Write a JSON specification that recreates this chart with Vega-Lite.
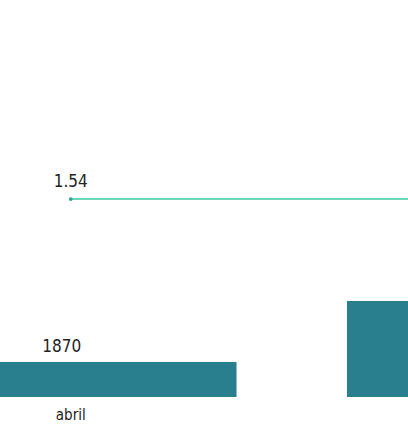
{
  "$schema": "https://vega.github.io/schema/vega-lite/v6.json",
  "width": 408,
  "height": 397,
  "autosize": {"type": "none"},
  "padding": {"left": 0, "top": 0, "right": 0, "bottom": 50},
  "background": "#ffffff",
  "config": {"view": {"stroke": null}, "font": "DejaVu Sans Condensed"},
  "data": {"values": [
    {"mes": "abril", "valor": 1870, "ratio": 1.54},
    {"mes": "mayo", "valor": 5130, "ratio": 1.54}
  ]},
  "encoding": {
    "x": {"field": "mes", "type": "nominal", "sort": null,
      "scale": {"range": [-95, 678.5], "paddingInner": 0.25, "paddingOuter": 0},
      "axis": {"title": null, "domain": false, "ticks": false, "labelFont": "DejaVu Sans Condensed", "labelFontSize": 15, "labelColor": "#222222", "labelPadding": 10, "labelAngle": 0}}
  },
  "layer": [
    {
      "layer": [
        {"mark": {"type": "bar", "color": "#2a7f8f"}},
        {"mark": {"type": "text", "baseline": "bottom", "dy": -6, "dx": -9, "fontSize": 17, "color": "#222222", "font": "DejaVu Sans Condensed"},
          "encoding": {"text": {"field": "valor", "type": "quantitative"}}}
      ],
      "encoding": {
        "y": {"field": "valor", "type": "quantitative", "scale": {"domain": [0, 21213], "nice": false, "zero": true}, "axis": null}
      }
    },
    {
      "layer": [
        {"mark": {"type": "line", "color": "#3cc9a0", "strokeWidth": 1.5}},
        {"mark": {"type": "point", "filled": true, "size": 14, "color": "#2aa88a", "opacity": 1}},
        {"mark": {"type": "text", "baseline": "bottom", "dy": -8, "fontSize": 17, "color": "#222222", "font": "DejaVu Sans Condensed"},
          "encoding": {"text": {"field": "ratio", "type": "quantitative", "format": ".2f"}}}
      ],
      "encoding": {
        "y": {"field": "ratio", "type": "quantitative", "scale": {"domain": [0, 3.088], "nice": false, "zero": true}, "axis": null}
      }
    }
  ],
  "resolve": {"scale": {"y": "independent"}}
}
